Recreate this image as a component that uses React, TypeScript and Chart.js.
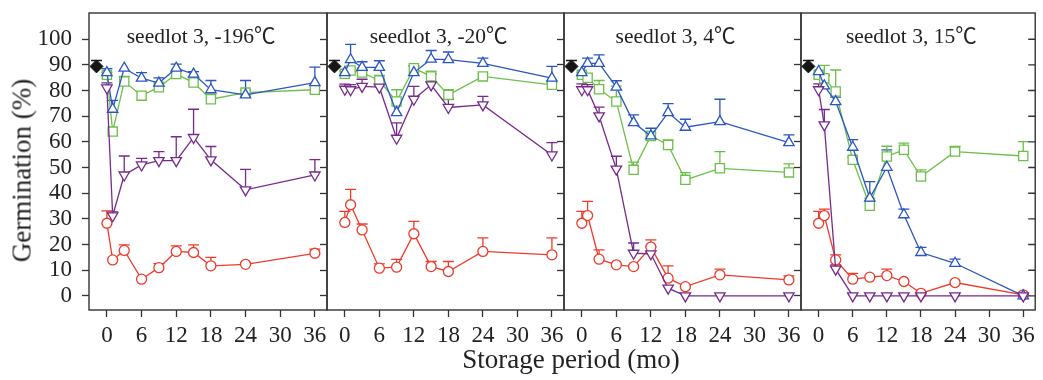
import { useEffect, useRef } from 'react';
import { Chart, registerables } from 'chart.js';

Chart.register(...registerables);

// ---------- data ----------
const months = [0, 1, 3, 6, 9, 12, 15, 18, 24, 36];
const xTicks = [0, 6, 12, 18, 24, 30, 36];
const yTicks = [0, 10, 20, 30, 40, 50, 60, 70, 80, 90, 100];
const panelTitles = ['seedlot 3, -196℃', 'seedlot 3, -20℃', 'seedlot 3, 4℃', 'seedlot 3, 15℃'];

const controlMonth = -1.8;
const controlValue = 89.4;
const controlErr = 2.3;

// panel 1: -196 C
const blue1 = [87, 72.7, 88.7, 84.8, 82.9, 88.7, 86.4, 80.3, 78.3, 83.1];
const blueErr1 = [1.5, 3.5, 0, 2.2, 2, 1.6, 1, 3.6, 5.6, 6];
const green1 = [86.1, 64, 83.5, 78, 81.3, 86.4, 83.1, 76.6, 79.2, 80.3];
const greenErr1 = [1, 0, 2, 0, 2, 1, 1, 2, 1, 0];
const purple1 = [81, 31.2, 47.1, 51, 52.7, 52.7, 61.7, 53, 41.3, 47.1];
const purpleErr1 = [2, 1.5, 7.4, 2.6, 3.5, 9.3, 11, 5.2, 8, 6];
const red1 = [28.3, 14, 17.7, 6.5, 11, 17.3, 16.9, 11.7, 12.3, 16.6];
const redErr1 = [4.8, 0, 2.2, 0, 1.6, 2.2, 3, 3.3, 0.6, 1.6];

// panel 2: -20 C
const blue2 = [87, 92, 89, 89, 71.4, 87, 92.2, 92, 90.6, 84.8];
const blueErr2 = [0, 6, 2.2, 2.6, 5, 2.6, 3.4, 3, 2, 4.6];
const green2 = [86.5, 87.8, 87, 83.9, 75.7, 88.7, 85.5, 78.3, 85.5, 82.2];
const greenErr2 = [1, 1, 1, 2, 4.6, 1, 2, 2, 1, 1];
const purple2 = [80.5, 80.3, 81.6, 81.3, 61.4, 76.6, 82.2, 73.4, 74.4, 54.9];
const purpleErr2 = [2, 2, 2.8, 3, 6, 5, 4.3, 3.2, 3.3, 4.8];
const red2 = [28.6, 35.5, 25.7, 10.8, 11.2, 24.2, 11.4, 9.5, 17.3, 16];
const redErr2 = [4.3, 6, 2.3, 1.7, 3, 4.8, 2, 3.9, 5.3, 6.6];

// panel 3: 4 C
const blue3 = [87, 90.6, 90.6, 81.3, 67.5, 62.3, 71.4, 65.7, 67.9, 59.7];
const blueErr3 = [0, 2, 3.3, 2.5, 3, 3, 3.5, 3.1, 8.7, 3];
const green3 = [86.1, 85, 80.5, 75.7, 49.1, 62.3, 58.8, 45.2, 49.7, 48.1];
const greenErr3 = [1, 1, 3.4, 6, 3, 1, 2, 2.8, 6.5, 3.3];
const purple3 = [80.3, 80.3, 70.1, 49.4, 16.6, 16.4, 3, 0, 0, 0];
const purpleErr3 = [2.3, 2, 3.4, 5, 4, 2.8, 0, 0, 0, 0];
const red3 = [28.3, 31.3, 14.3, 12.1, 11.4, 19, 6.9, 3.6, 8.2, 6.2];
const redErr3 = [4.6, 5.5, 3.6, 0, 0, 2.8, 4.8, 0, 2.2, 1.6];

// panel 4: 15 C
const blue4 = [87.4, 81.8, 75.7, 57.9, 38.1, 50.1, 31.6, 16.9, 12.7, 0];
const blueErr4 = [0, 4, 1.7, 3, 6.4, 6.8, 2.2, 2, 1.6, 0];
const green4 = [86.1, 84.8, 79.6, 53, 35.1, 54.3, 56.9, 46.5, 56.2, 54.5];
const greenErr4 = [0, 5, 8.4, 1, 3, 4, 2.6, 2.6, 2, 5.6];
const purple4 = [80.3, 66.6, 10.4, 0, 0, 0, 0, 0, 0, 0];
const purpleErr4 = [2.3, 6, 1.7, 0, 0, 0, 0, 0, 0, 0];
const red4 = [28.3, 31.3, 14, 6.5, 7.3, 7.9, 5.6, 1, 5.2, 0.4];
const redErr4 = [4.6, 2.5, 2, 2.3, 0, 2.5, 0, 0, 0, 0];

const panelSeries = [
  { blue: blue1, blueErr: blueErr1, green: green1, greenErr: greenErr1, purple: purple1, purpleErr: purpleErr1, red: red1, redErr: redErr1 },
  { blue: blue2, blueErr: blueErr2, green: green2, greenErr: greenErr2, purple: purple2, purpleErr: purpleErr2, red: red2, redErr: redErr2 },
  { blue: blue3, blueErr: blueErr3, green: green3, greenErr: greenErr3, purple: purple3, purpleErr: purpleErr3, red: red3, redErr: redErr3 },
  { blue: blue4, blueErr: blueErr4, green: green4, greenErr: greenErr4, purple: purple4, purpleErr: purpleErr4, red: red4, redErr: redErr4 },
];

// ---------- layout / style ----------
const W = 1043;
const H = 380;
const TOP = 13;
const BOTTOM = 310;
const panelBounds = [
  [89, 327],
  [327, 564],
  [564, 801],
  [801, 1038],
];
const FONT = '"Liberation Serif", "Times New Roman", serif';
const TITLE_FONT = '21.5px "Liberation Serif", "Noto Sans CJK SC", serif';
const AXIS = '#333333';
const TEXT = '#222222';
const BLUE = '#2a55c2';
const GREEN = '#6cc04a';
const PURPLE = '#77298c';
const RED = '#ee3b2b';
const BLACK = '#151515';

const errorPlugin = {
  id: 'errbars',
  beforeDatasetsDraw(chart: any) {
    const ctx = chart.ctx;
    const ys = chart.scales.y;
    chart.data.datasets.forEach((ds: any, di: number) => {
      const errs = ds.errors;
      if (!errs) return;
      const meta = chart.getDatasetMeta(di);
      meta.data.forEach((pt: any, i: number) => {
        const e = errs[i];
        if (!e) return;
        const v = ds.data[i].y;
        const y1 = ys.getPixelForValue(v + e);
        ctx.save();
        ctx.strokeStyle = ds.borderColor;
        ctx.lineWidth = 1.3;
        ctx.beginPath();
        ctx.moveTo(pt.x, pt.y);
        ctx.lineTo(pt.x, y1);
        ctx.moveTo(pt.x - 5.5, y1);
        ctx.lineTo(pt.x + 5.5, y1);
        ctx.stroke();
        ctx.restore();
      });
    });
  },
};

const boxPlugin = {
  id: 'box',
  afterDraw(chart: any, _args: any, opts: any) {
    const { ctx, chartArea } = chart;
    const { left, right, top, bottom } = chartArea;
    ctx.save();
    ctx.strokeStyle = AXIS;
    ctx.lineWidth = 1.4;
    ctx.strokeRect(left, top, right - left, bottom - top);
    if (opts.rightTicks) {
      const ys = chart.scales.y;
      ctx.beginPath();
      yTicks.forEach((v) => {
        const y = ys.getPixelForValue(v);
        ctx.moveTo(right - 7, y);
        ctx.lineTo(right, y);
      });
      ctx.stroke();
    }
    ctx.fillStyle = TEXT;
    ctx.font = TITLE_FONT;
    ctx.textAlign = 'center';
    ctx.textBaseline = 'alphabetic';
    ctx.fillText(opts.title, chart.scales.x.getPixelForValue(16.3), 42.5);
    ctx.restore();
  },
};

function series(label: string, values: number[], errs: number[], color: string, style: string, radius: number, rotation = 0) {
  return {
    label,
    data: months.map((m, i) => ({ x: m, y: values[i] })),
    errors: errs,
    borderColor: color,
    backgroundColor: '#ffffff',
    borderWidth: 1.3,
    pointBorderWidth: 1.3,
    pointStyle: style,
    pointRadius: radius,
    pointRotation: rotation,
    tension: 0,
  };
}

function Panel({ idx }: { idx: number }) {
  const ref = useRef<HTMLCanvasElement>(null);
  useEffect(() => {
    const [left, right] = panelBounds[idx];
    const yW = idx === 0 ? left : 10;
    const s = panelSeries[idx];
    const datasets: any[] = [
      {
        label: 'control',
        data: [{ x: controlMonth, y: controlValue }],
        errors: [controlErr],
        borderColor: BLACK,
        backgroundColor: BLACK,
        pointStyle: 'rectRot',
        pointRadius: 6.5,
        pointBorderWidth: 1,
        showLine: false,
      },
      series('purple', s.purple, s.purpleErr, PURPLE, 'triangle', 6, 180),
      series('blue', s.blue, s.blueErr, BLUE, 'triangle', 6),
      series('green', s.green, s.greenErr, GREEN, 'rect', 6.5),
      series('red', s.red, s.redErr, RED, 'circle', 5),
    ];
    const chart = new Chart(ref.current as HTMLCanvasElement, {
      type: 'line',
      data: { datasets },
      options: {
        animation: false,
        responsive: false,
        maintainAspectRatio: false,
        layout: { padding: { left: left - yW, right: W - right, top: TOP, bottom: 0 } },
        plugins: {
          legend: { display: false },
          tooltip: { enabled: false },
          box: { title: panelTitles[idx], rightTicks: idx === 3 },
        } as any,
        scales: {
          x: {
            type: 'linear',
            min: -3.1,
            max: 38.1,
            afterBuildTicks: (sc: any) => {
              sc.ticks = xTicks.map((v) => ({ value: v }));
            },
            afterFit: (sc: any) => {
              sc.height = H - BOTTOM;
              sc.paddingLeft = 0;
              sc.paddingRight = 0;
              sc.paddingTop = 0;
              sc.paddingBottom = 0;
            },
            grid: { drawOnChartArea: false, drawTicks: true, tickLength: 7, tickColor: AXIS, tickWidth: 1.3 },
            border: { display: false },
            ticks: {
              font: { family: FONT, size: 23 },
              color: TEXT,
              padding: 5,
              maxRotation: 0,
              autoSkip: false,
              callback: (v: any) => String(v),
            },
          },
          y: {
            type: 'linear',
            min: -5.5,
            max: 110.2,
            afterBuildTicks: (sc: any) => {
              sc.ticks = yTicks.map((v) => ({ value: v }));
            },
            afterFit: (sc: any) => {
              sc.width = yW;
              sc.paddingLeft = 0;
              sc.paddingRight = 0;
              sc.paddingTop = 0;
              sc.paddingBottom = 0;
            },
            grid: { drawOnChartArea: false, drawTicks: true, tickLength: 7, tickColor: AXIS, tickWidth: 1.3 },
            border: { display: false },
            ticks: {
              display: idx === 0,
              autoSkip: false,
              font: { family: FONT, size: 23 },
              color: TEXT,
              padding: 10,
              callback: (v: any) => String(v),
            },
          },
        },
      } as any,
      plugins: [errorPlugin, boxPlugin],
    });
    return () => chart.destroy();
  }, [idx]);
  return (
    <canvas
      ref={ref}
      width={W}
      height={H}
      style={{ position: 'absolute', left: 0, top: 0, width: W, height: H }}
    />
  );
}

export default function App() {
  return (
    <div style={{ position: 'absolute', left: 0, top: 0, width: W, height: H, background: '#fff', overflow: 'hidden' }}>
      {[0, 1, 2, 3].map((i) => (
        <Panel key={i} idx={i} />
      ))}
      <div
        style={{
          position: 'absolute',
          left: 571 - 300,
          width: 600,
          top: 346,
          textAlign: 'center',
          fontFamily: FONT,
          fontSize: 27,
          lineHeight: 1,
          color: TEXT,
          whiteSpace: 'nowrap',
        }}
      >
        Storage period (mo)
      </div>
      <div
        style={{
          position: 'absolute',
          left: 22 - 150,
          width: 300,
          top: 170 - 13.5,
          height: 27,
          textAlign: 'center',
          fontFamily: FONT,
          fontSize: 27,
          lineHeight: 1,
          color: TEXT,
          whiteSpace: 'nowrap',
          transform: 'rotate(-90deg)',
          transformOrigin: '50% 50%',
        }}
      >
        Germination (%)
      </div>
    </div>
  );
}
